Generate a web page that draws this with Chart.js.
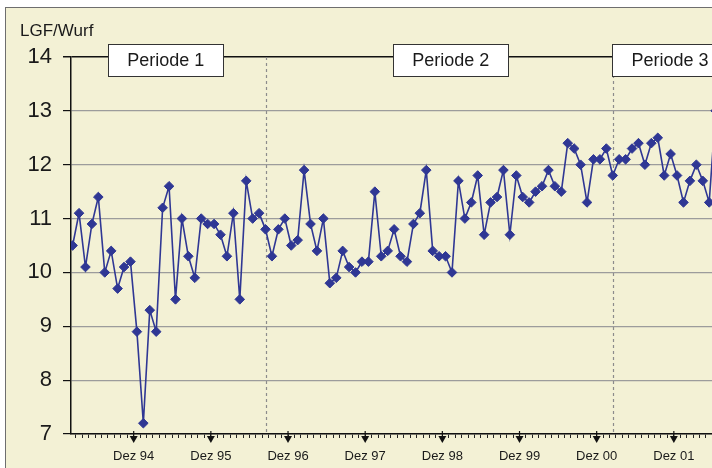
<!DOCTYPE html>
<html>
<head>
<meta charset="utf-8">
<script src="https://cdn.jsdelivr.net/npm/chart.js@4.4.0/dist/chart.umd.min.js"></script>
<style>
    html, body { margin: 0; padding: 0; background: #fff; overflow: hidden; }
    #frame { position: absolute; left: 5px; top: 7px; width: 800px; height: 520px;
             border: 1px solid #6e6e6e; background: #f3f1d5; }
    #wrap { position: absolute; left: 0; top: 0; width: 760px; height: 468px; }
</style>
</head>
<body>
<div id="frame"></div>
<div id="wrap"><canvas id="lgfChart" width="760" height="468"></canvas></div>
<script>
const FONT = "'Liberation Sans', Arial, sans-serif";

// LGF/Wurf, ein Wert pro Monat ab Mär 94
const lgf = [
    10.5, 11.1, 10.1, 10.9, 11.4, 10.0, 10.4, 9.7, 10.1, 10.2,
    8.9, 7.2, 9.3, 8.9, 11.2, 11.6, 9.5, 11.0, 10.3, 9.9,
    11.0, 10.9, 10.9, 10.7, 10.3, 11.1, 9.5, 11.7, 11.0, 11.1,
    10.8, 10.3, 10.8, 11.0, 10.5, 10.6, 11.9, 10.9, 10.4, 11.0,
    9.8, 9.9, 10.4, 10.1, 10.0, 10.2, 10.2, 11.5, 10.3, 10.4,
    10.8, 10.3, 10.2, 10.9, 11.1, 11.9, 10.4, 10.3, 10.3, 10.0,
    11.7, 11.0, 11.3, 11.8, 10.7, 11.3, 11.4, 11.9, 10.7, 11.8,
    11.4, 11.3, 11.5, 11.6, 11.9, 11.6, 11.5, 12.4, 12.3, 12.0,
    11.3, 12.1, 12.1, 12.3, 11.8, 12.1, 12.1, 12.3, 12.4, 12.0,
    12.4, 12.5, 11.8, 12.2, 11.8, 11.3, 11.7, 12.0, 11.7, 11.3,
    13.0
];

const monthNames = ["Jan","Feb","Mär","Apr","Mai","Jun","Jul","Aug","Sep","Okt","Nov","Dez"];
const startYear = 94;
const startMonth = 2;

const months = lgf.map((v, i) => {
    const m = (startMonth + i) % 12;
    const y = (startYear + Math.floor((startMonth + i) / 12)) % 100;
    return monthNames[m] + " " + String(y).padStart(2, "0");
});

const dezLabels = ["Dez 94","Dez 95","Dez 96","Dez 97","Dez 98","Dez 99","Dez 00","Dez 01"];

const periodNames = ["Periode 1","Periode 2","Periode 3"];
const periodStarts = ["Sep 96","Mär 01"];
const periodLabelX = [14.5, 58.8, 92.9];

const yTicks = [7, 8, 9, 10, 11, 12, 13, 14];

const decor = {
    id: "decor",
    beforeDatasetsDraw(chart) {
        const { ctx, chartArea: a, scales: { x } } = chart;
        ctx.save();
        ctx.strokeStyle = "#8c8c8c";
        ctx.lineWidth = 1.2;
        ctx.setLineDash([3, 3]);
        periodStarts.forEach(lbl => {
            const px = Math.round(x.getPixelForValue(months.indexOf(lbl))) + 0.5;
            ctx.beginPath();
            ctx.moveTo(px, a.top);
            ctx.lineTo(px, a.bottom);
            ctx.stroke();
        });
        ctx.restore();
    },
    afterDraw(chart) {
        const { ctx, chartArea: a, scales: { x } } = chart;
        ctx.save();

        // Pfeile unter der Achse
        ctx.fillStyle = "#111";
        ctx.strokeStyle = "#111";
        ctx.lineWidth = 1.2;
        dezLabels.forEach(lbl => {
            const px = x.getPixelForValue(months.indexOf(lbl) + 0.5);
            ctx.beginPath();
            ctx.moveTo(px, a.bottom - 3);
            ctx.lineTo(px, a.bottom + 3);
            ctx.stroke();
            ctx.beginPath();
            ctx.moveTo(px - 4, a.bottom + 2);
            ctx.lineTo(px + 4, a.bottom + 2);
            ctx.lineTo(px, a.bottom + 9);
            ctx.closePath();
            ctx.fill();
        });

        // Periodenkästen
        ctx.font = "18px " + FONT;
        ctx.textAlign = "center";
        ctx.textBaseline = "middle";
        periodNames.forEach((name, i) => {
            const cx = x.getPixelForValue(periodLabelX[i]);
            const left = Math.round(cx - 57.5) + 0.5;
            ctx.fillStyle = "#fff";
            ctx.fillRect(left, 44.5, 115, 32);
            ctx.strokeStyle = "#333";
            ctx.lineWidth = 1;
            ctx.strokeRect(left, 44.5, 115, 32);
            ctx.fillStyle = "#1a1a1a";
            ctx.fillText(name, cx, 61);
        });

        // Achsentitel
        ctx.font = "17px " + FONT;
        ctx.textAlign = "left";
        ctx.textBaseline = "alphabetic";
        ctx.fillStyle = "#1a1a1a";
        ctx.fillText("LGF/Wurf", 20, 36);
        ctx.restore();
    }
};

const ctx = document.getElementById("lgfChart").getContext("2d");

new Chart(ctx, {
    type: "line",
    data: {
        datasets: [{
            label: "LGF/Wurf",
            data: lgf.map((v, i) => ({ x: i, y: v })),
            borderColor: "#2f3794",
            borderWidth: 1.6,
            pointStyle: "rectRot",
            pointRadius: 4.8,
            pointBackgroundColor: "#2f3794",
            pointBorderColor: "#2f3794",
            pointBorderWidth: 1,
            tension: 0
        }]
    },
    options: {
        responsive: false,
        animation: false,
        layout: { padding: { left: 0, top: 57, right: 18, bottom: 0 } },
        plugins: { legend: { display: false }, tooltip: { enabled: false } },
        scales: {
            x: {
                type: "linear",
                min: -0.25,
                max: 104.1,
                afterFit: s => { s.height = 34; },
                afterBuildTicks: s => {
                    const t = [];
                    for (let k = 0; k < 104; k++) t.push({ value: k + 0.5 });
                    s.ticks = t;
                },
                ticks: {
                    autoSkip: false,
                    maxRotation: 0,
                    padding: 11,
                    color: "#1a1a1a",
                    font: { family: FONT, size: 13 },
                    callback: value => {
                        const lbl = months[Math.round(value - 0.5)];
                        return dezLabels.includes(lbl) ? lbl : "";
                    }
                },
                grid: { drawOnChartArea: false, tickLength: 4, tickColor: "#222", tickWidth: 1 },
                border: { color: "#111", width: 1.5 }
            },
            y: {
                min: 7,
                max: 14,
                afterFit: s => { s.width = 71; },
                afterBuildTicks: s => { s.ticks = yTicks.map(v => ({ value: v })); },
                ticks: {
                    padding: 11,
                    color: "#1a1a1a",
                    font: { family: FONT, size: 22 }
                },
                grid: {
                    color: c => (c.tick && c.tick.value === 14 ? "#111" : "#9c9c9c"),
                    lineWidth: c => (c.tick && c.tick.value === 14 ? 1.5 : 1.2),
                    tickColor: "#111",
                    tickLength: 8
                },
                border: { color: "#111", width: 1.5 }
            }
        }
    },
    plugins: [decor]
});
</script>
</body>
</html>
